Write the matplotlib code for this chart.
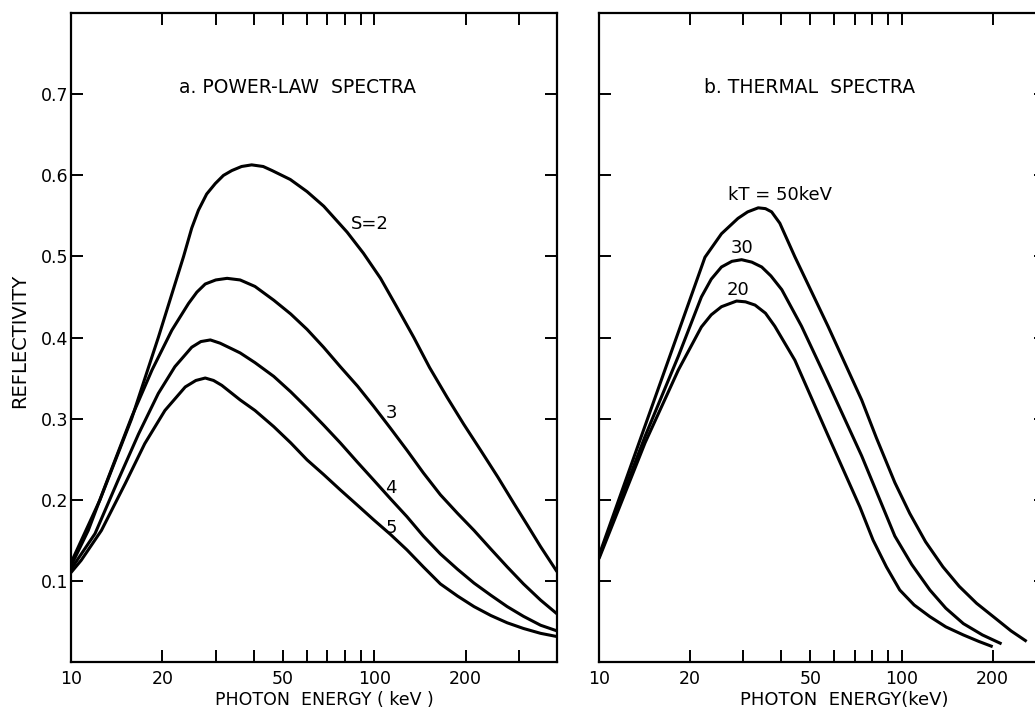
import matplotlib
matplotlib.use("Agg")
import matplotlib.pyplot as plt
from matplotlib.ticker import NullLocator

# Power-law spectra, reflectivity vs photon energy (keV)
s2_e = [10, 12.47, 15.85, 19.4, 23.5, 25, 26.3, 28, 29.9, 31.8, 33.9, 36.5, 39.4, 43, 46,
        52.8, 60, 68.1, 81.3, 92, 104.8, 118, 134.9, 152, 173.8, 197, 223.9, 255,
        288.6, 320, 353, 400]
s2_r = [0.122, 0.2, 0.3, 0.4, 0.5, 0.535, 0.557, 0.577, 0.59, 0.6, 0.606, 0.611, 0.613,
        0.611, 0.606, 0.595, 0.58, 0.562, 0.530, 0.504, 0.473, 0.439, 0.400, 0.363,
        0.326, 0.293, 0.261, 0.228, 0.195, 0.168, 0.142, 0.111]

s3_e = [10, 11.4, 13.3, 15.85, 18.5, 21.5, 24.4, 26, 27.7, 30, 32.7, 36.1, 40.4, 46.6,
        53, 60, 68, 77.2, 88, 99.5, 113, 128, 145, 165, 188, 213, 242, 274, 310, 353, 400]
s3_r = [0.118, 0.162, 0.228, 0.302, 0.36, 0.409, 0.442, 0.456, 0.466, 0.471, 0.473, 0.471,
        0.463, 0.446, 0.429, 0.41, 0.388, 0.364, 0.34, 0.315, 0.288, 0.261, 0.233, 0.206,
        0.183, 0.162, 0.139, 0.117, 0.096, 0.076, 0.059]

s4_e = [10, 12.0, 14.3, 16.7, 19.4, 22.0, 25.0, 26.8, 28.8, 31, 33.9, 36.1, 40.4, 46.6,
        53, 60, 68, 77.2, 88, 99.5, 113, 128, 145, 165, 188, 213, 242, 274, 310, 353, 400]
s4_r = [0.114, 0.158, 0.224, 0.281, 0.331, 0.364, 0.388, 0.395, 0.397, 0.393, 0.386, 0.381,
        0.369, 0.352, 0.333, 0.313, 0.292, 0.27, 0.246, 0.224, 0.201, 0.179, 0.155, 0.133,
        0.114, 0.097, 0.082, 0.068, 0.056, 0.045, 0.038]

s5_e = [10, 10.8, 12.6, 15.1, 17.5, 20.4, 23.8, 25.8, 27.7, 29.5, 31.4, 36.1, 40.4, 46.6,
        53, 60, 68, 77.2, 88, 99.5, 113, 128, 145, 165, 188, 213, 242, 274, 310, 353, 400]
s5_r = [0.110, 0.125, 0.162, 0.22, 0.269, 0.31, 0.339, 0.347, 0.350, 0.347, 0.341, 0.323,
        0.31, 0.29, 0.27, 0.249, 0.231, 0.212, 0.193, 0.175, 0.157, 0.138, 0.117, 0.096,
        0.081, 0.068, 0.057, 0.048, 0.041, 0.035, 0.031]

# Thermal spectra
kt50_e = [10, 15.1, 22.4, 25.4, 28.8, 31, 33.6, 35.5, 37.2, 39.6, 44.4, 57.2, 73.8, 82.6,
          95.0, 106.4, 120, 137, 155, 177, 205, 230, 259]
kt50_r = [0.131, 0.319, 0.499, 0.528, 0.547, 0.555, 0.560, 0.559, 0.555, 0.541, 0.4996,
          0.4135, 0.323, 0.276, 0.221, 0.183, 0.148, 0.117, 0.093, 0.072, 0.053, 0.038, 0.025]

kt30_e = [10, 14.2, 18.3, 21.8, 23.5, 25.4, 27.5, 29.6, 32, 34.5, 37, 40.2, 46.7, 57.2,
          73.8, 95, 108, 124, 140, 160, 185, 214]
kt30_r = [0.129, 0.278, 0.377, 0.45, 0.472, 0.487, 0.494, 0.496, 0.493, 0.487, 0.476,
          0.459, 0.414, 0.344, 0.254, 0.155, 0.12, 0.0885, 0.066, 0.047, 0.033, 0.022]

kt20_e = [10, 14.2, 18.3, 21.8, 23.5, 25.4, 28.5, 30.5, 32.8, 35.5, 38.1, 44.4, 57, 72.8,
          80.5, 89.1, 98.6, 110, 124, 140, 160, 180, 200]
kt20_r = [0.127, 0.27, 0.36, 0.413, 0.428, 0.438, 0.445, 0.444, 0.44, 0.43, 0.414, 0.372,
          0.28, 0.191, 0.15, 0.117, 0.0885, 0.07, 0.0556, 0.043, 0.033, 0.025, 0.0185]

x_ticks = [10, 20, 30, 40, 50, 60, 70, 80, 90, 100, 200, 300]
x_labels = ["10", "20", "", "", "50", "", "", "", "", "100", "200", ""]
y_ticks = [0.1, 0.2, 0.3, 0.4, 0.5, 0.6, 0.7]
y_labels = ["0.1", "0.2", "0.3", "0.4", "0.5", "0.6", "0.7"]

plt.rcParams["font.family"] = "DejaVu Sans"

fig = plt.figure(figsize=(10.35, 7.08), dpi=100)
ax_a = fig.add_axes([0.0686, 0.0654, 0.4696, 0.9158])
ax_b = fig.add_axes([0.5787, 0.0654, 0.4319, 0.9158])


def style_axes(ax, xmax, show_ylabels):
    ax.set_xscale("log")
    ax.set_xlim(10, xmax)
    ax.set_ylim(0, 0.8)
    ax.set_xticks(x_ticks, labels=x_labels)
    ax.xaxis.set_minor_locator(NullLocator())
    ax.set_yticks(y_ticks, labels=y_labels if show_ylabels else [])
    ax.tick_params(which="both", direction="in", top=True, right=True,
                   length=8.6, width=1.4, labelsize=12.5)
    ax.tick_params(axis="x", pad=6)
    ax.tick_params(axis="y", pad=2)
    for sp in ax.spines.values():
        sp.set_linewidth(1.6)


style_axes(ax_a, 400, True)
style_axes(ax_b, 300, False)

line_kw = dict(color="black", lw=2.2, solid_joinstyle="round", solid_capstyle="butt")
for e, r in [(s2_e, s2_r), (s3_e, s3_r), (s4_e, s4_r), (s5_e, s5_r)]:
    ax_a.plot(e, r, **line_kw)
for e, r in [(kt50_e, kt50_r), (kt30_e, kt30_r), (kt20_e, kt20_r)]:
    ax_b.plot(e, r, **line_kw)

ax_a.text(56, 0.708, "a. POWER-LAW  SPECTRA", ha="center", va="center", fontsize=13.5)
ax_b.text(49.5, 0.708, "b. THERMAL  SPECTRA", ha="center", va="center", fontsize=13.5)

lab_kw = dict(ha="center", va="center", fontsize=13)
ax_a.text(96.3, 0.540, "S=2", **lab_kw)
ax_a.text(114, 0.307, "3", **lab_kw)
ax_a.text(113, 0.214, "4", **lab_kw)
ax_a.text(114, 0.165, "5", **lab_kw)
ax_b.text(39.7, 0.576, "kT = 50keV", **lab_kw)
ax_b.text(29.8, 0.510, "30", **lab_kw)
ax_b.text(28.7, 0.459, "20", **lab_kw)

fig.text(20 / 1035, 1 - 341 / 708, "REFLECTIVITY", rotation=90,
         ha="center", va="center", fontsize=14)
fig.text(324 / 1035, 1 - 700 / 708, "PHOTON  ENERGY ( keV )",
         ha="center", va="center", fontsize=12.5)
fig.text(844 / 1035, 1 - 700 / 708, "PHOTON  ENERGY(keV)",
         ha="center", va="center", fontsize=13)

fig.savefig("out.png", dpi=100)
